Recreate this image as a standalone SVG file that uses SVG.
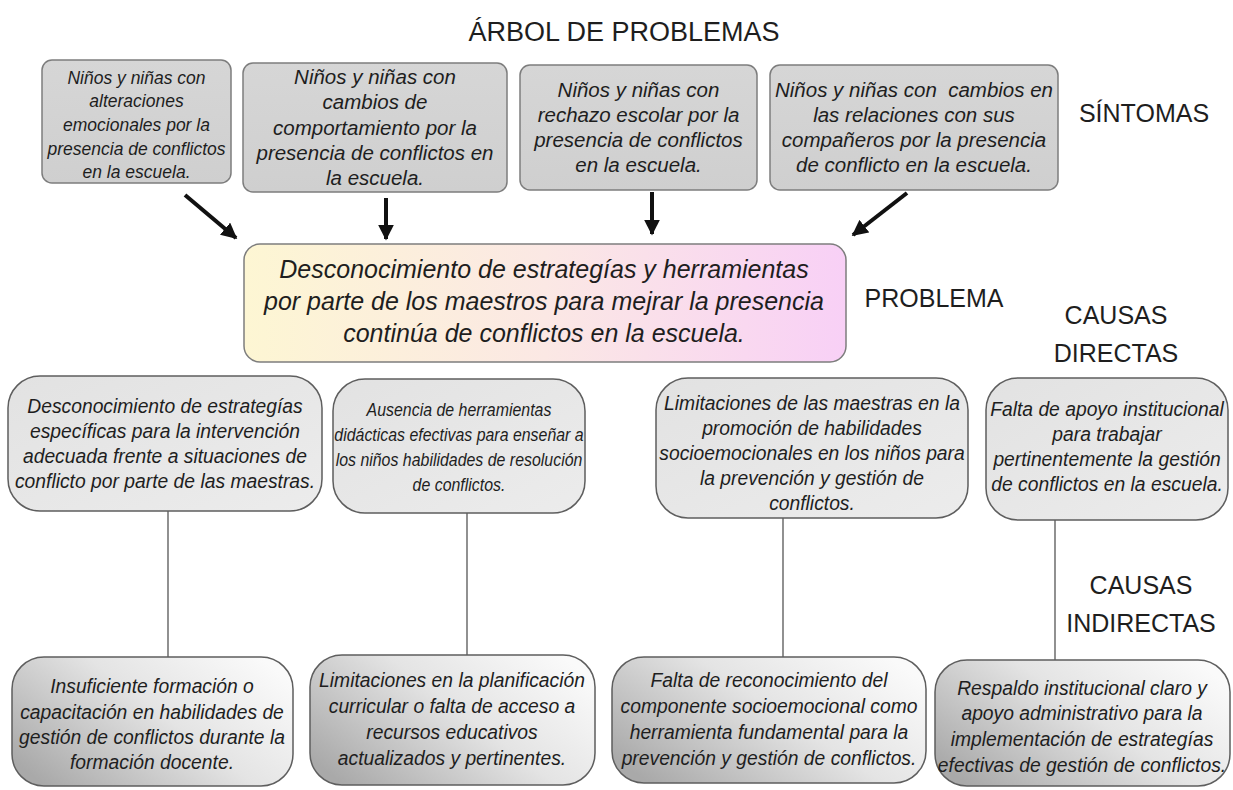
<svg xmlns="http://www.w3.org/2000/svg" width="1233" height="790" viewBox="0 0 1233 790">
<defs>
<linearGradient id="gMain" x1="0" y1="0" x2="1" y2="0">
<stop offset="0" stop-color="#fdf6d3"/>
<stop offset="0.5" stop-color="#fbe8e4"/>
<stop offset="1" stop-color="#f8d0f6"/>
</linearGradient>
<linearGradient id="gTop" x1="0" y1="0" x2="0" y2="1">
<stop offset="0" stop-color="#d6d6d6"/>
<stop offset="1" stop-color="#cfcfcf"/>
</linearGradient>
<linearGradient id="gDir" x1="0" y1="0" x2="1" y2="1">
<stop offset="0" stop-color="#e2e2e2"/>
<stop offset="1" stop-color="#ececec"/>
</linearGradient>
<linearGradient id="gInd" x1="0" y1="0.8" x2="1" y2="0.2">
<stop offset="0" stop-color="#a9a9a9"/>
<stop offset="0.55" stop-color="#e4e4e4"/>
<stop offset="1" stop-color="#fafafa"/>
</linearGradient>
<marker id="ah" viewBox="0 0 10 10" refX="9" refY="5" markerWidth="4" markerHeight="4" orient="auto" markerUnits="strokeWidth">
<path d="M0,0 L10,5 L0,10 z" fill="#111"/>
</marker>
<style>
.lbl{font-family:"Liberation Sans",Arial,sans-serif;font-size:25px;fill:#1e1e1e;text-anchor:middle}
.t{font-family:"Liberation Sans",Arial,sans-serif;font-style:italic;fill:#1e1e1e;text-anchor:middle}
.top{fill:url(#gTop);stroke:#7d7d7d;stroke-width:1.5}
.dir{fill:url(#gDir);stroke:#5e5e5e;stroke-width:1.5}
.ind{fill:url(#gInd);stroke:#5e5e5e;stroke-width:1.5}
.arr{stroke:#111;stroke-width:4;fill:none;marker-end:url(#ah)}
.ln{stroke:#555;stroke-width:1.3;fill:none}
</style>
</defs>
<rect width="1233" height="790" fill="#ffffff"/>

<text class="lbl" x="624" y="41" style="font-size:27px">ÁRBOL DE PROBLEMAS</text>
<text class="lbl" x="1144" y="122">SÍNTOMAS</text>
<text class="lbl" x="934" y="307">PROBLEMA</text>
<text class="lbl" x="1116" y="324">CAUSAS</text>
<text class="lbl" x="1116" y="362">DIRECTAS</text>
<text class="lbl" x="1141" y="594">CAUSAS</text>
<text class="lbl" x="1141" y="632">INDIRECTAS</text>

<g id="connectors">
<line class="arr" x1="185" y1="195" x2="236" y2="238"/>
<line class="arr" x1="386" y1="198" x2="386" y2="239"/>
<line class="arr" x1="652" y1="192" x2="652" y2="234"/>
<line class="arr" x1="907" y1="193" x2="853" y2="235"/>
<line class="ln" x1="168" y1="511" x2="168" y2="657"/>
<line class="ln" x1="467" y1="513" x2="467" y2="655"/>
<line class="ln" x1="783" y1="518" x2="783" y2="657"/>
<line class="ln" x1="1055" y1="520" x2="1055" y2="660"/>
</g>

<g id="s1">
<rect class="top" x="42" y="60" width="189" height="123" rx="10"/>
<text class="t" style="font-size:17.5px" x="136.5"><tspan x="136.5" y="84">Niños y niñas con</tspan><tspan x="136.5" y="107">alteraciones</tspan><tspan x="136.5" y="131">emocionales por la</tspan><tspan x="136.5" y="155">presencia de conflictos</tspan><tspan x="136.5" y="178">en la escuela.</tspan></text>
</g>
<g id="s2">
<rect class="top" x="243" y="63" width="264" height="129" rx="10"/>
<text class="t" style="font-size:20.5px" x="375"><tspan x="375" y="84">Niños y niñas con</tspan><tspan x="375" y="109">cambios de</tspan><tspan x="375" y="135">comportamiento por la</tspan><tspan x="375" y="160">presencia de conflictos en</tspan><tspan x="375" y="185">la escuela.</tspan></text>
</g>
<g id="s3">
<rect class="top" x="520" y="65" width="237" height="125" rx="10"/>
<text class="t" style="font-size:20.5px" x="638.5"><tspan x="638.5" y="97">Niños y niñas con</tspan><tspan x="638.5" y="122">rechazo escolar por la</tspan><tspan x="638.5" y="147">presencia de conflictos</tspan><tspan x="638.5" y="172">en la escuela.</tspan></text>
</g>
<g id="s4">
<rect class="top" x="770" y="65" width="288" height="125" rx="10"/>
<text class="t" style="font-size:20.5px" x="914" xml:space="preserve"><tspan x="914" y="97">Niños y niñas con  cambios en</tspan><tspan x="914" y="122">las relaciones con sus</tspan><tspan x="914" y="147">compañeros por la presencia</tspan><tspan x="914" y="172">de conflicto en la escuela.</tspan></text>
</g>

<g id="problem">
<rect x="244" y="244" width="602" height="118" rx="16" fill="url(#gMain)" stroke="#7d7d7d" stroke-width="1.5"/>
<text class="t" style="font-size:25px" x="544"><tspan x="544" y="278">Desconocimiento de estrategías y herramientas</tspan><tspan x="544" y="310">por parte de los maestros para mejrar la presencia</tspan><tspan x="544" y="342">continúa de conflictos en la escuela.</tspan></text>
</g>

<g id="d1">
<rect class="dir" x="8" y="376" width="314" height="135" rx="32"/>
<text class="t" style="font-size:19.3px" x="165"><tspan x="165" y="413">Desconocimiento de estrategías</tspan><tspan x="165" y="438">específicas para la intervención</tspan><tspan x="165" y="463">adecuada frente a situaciones de</tspan><tspan x="165" y="488">conflicto por parte de las maestras.</tspan></text>
</g>
<g id="d2">
<rect class="dir" x="333" y="379" width="252" height="134" rx="32"/>
<text class="t" style="font-size:18.5px" transform="translate(459,0) scale(0.86,1)" x="0"><tspan x="0" y="416">Ausencia de herramientas</tspan><tspan x="0" y="441">didácticas efectivas para enseñar a</tspan><tspan x="0" y="466">los niños habilidades de resolución</tspan><tspan x="0" y="491">de conflictos.</tspan></text>
</g>
<g id="d3">
<rect class="dir" x="656" y="378" width="312" height="140" rx="32"/>
<text class="t" style="font-size:19.3px" x="812"><tspan x="812" y="410">Limitaciones de las maestras en la</tspan><tspan x="812" y="435">promoción de habilidades</tspan><tspan x="812" y="460">socioemocionales en los niños para</tspan><tspan x="812" y="485">la prevención y gestión de</tspan><tspan x="812" y="510">conflictos.</tspan></text>
</g>
<g id="d4">
<rect class="dir" x="986" y="378" width="242" height="142" rx="32"/>
<text class="t" style="font-size:19.3px" x="1107"><tspan x="1107" y="416">Falta de apoyo institucional</tspan><tspan x="1107" y="441">para trabajar</tspan><tspan x="1107" y="466">pertinentemente la gestión</tspan><tspan x="1107" y="491">de conflictos en la escuela.</tspan></text>
</g>

<g id="i1">
<rect class="ind" x="12" y="657" width="281" height="129" rx="32"/>
<text class="t" style="font-size:19.3px" x="152"><tspan x="152" y="693">Insuficiente formación o</tspan><tspan x="152" y="719">capacitación en habilidades de</tspan><tspan x="152" y="744">gestión de conflictos durante la</tspan><tspan x="152" y="769">formación docente.</tspan></text>
</g>
<g id="i2">
<rect class="ind" x="310" y="655" width="285" height="130" rx="32"/>
<text class="t" style="font-size:19.3px" x="452"><tspan x="452" y="687">Limitaciones en la planificación</tspan><tspan x="452" y="713">curricular o falta de acceso a</tspan><tspan x="452" y="739">recursos educativos</tspan><tspan x="452" y="765">actualizados y pertinentes.</tspan></text>
</g>
<g id="i3">
<rect class="ind" x="612" y="657" width="314" height="126" rx="32"/>
<text class="t" style="font-size:19.3px" x="769"><tspan x="769" y="687">Falta de reconocimiento del</tspan><tspan x="769" y="713">componente socioemocional como</tspan><tspan x="769" y="739">herramienta fundamental para la</tspan><tspan x="769" y="765">prevención y gestión de conflictos.</tspan></text>
</g>
<g id="i4">
<rect class="ind" x="935" y="660" width="295" height="126" rx="32"/>
<text class="t" style="font-size:19.3px" x="1082"><tspan x="1082" y="695">Respaldo institucional claro y</tspan><tspan x="1082" y="720">apoyo administrativo para la</tspan><tspan x="1082" y="746">implementación de estrategías</tspan><tspan x="1082" y="772">efectivas de gestión de conflictos.</tspan></text>
</g>
</svg>
